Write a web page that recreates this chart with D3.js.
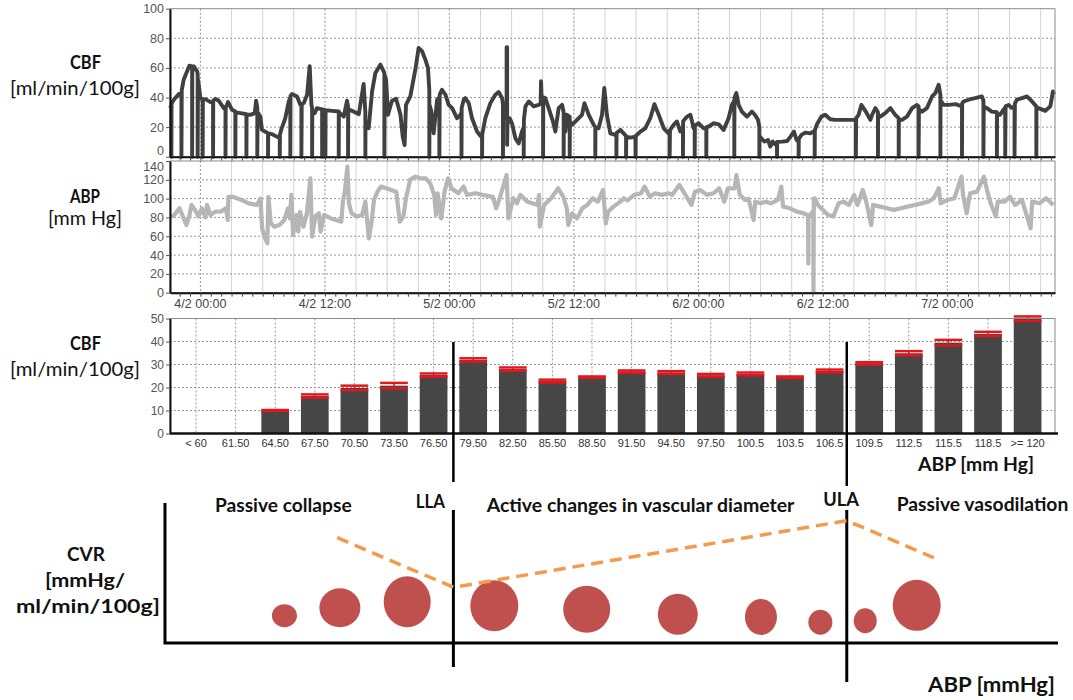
<!DOCTYPE html>
<html>
<head>
<meta charset="utf-8">
<script src="https://cdn.jsdelivr.net/npm/d3@7"></script>
<style>
  body { margin: 0; background: #fff; }
  .tick text { font-family: "Liberation Sans", Arial, sans-serif; }
  .lbl { font-family: Lato, "Open Sans", sans-serif; fill: #111; }
</style>
</head>
<body>
<svg id="chart" width="1073" height="700"></svg>
<script>
// ---- time series (hours after 4/2 00:00, value) ----
const timeStartHour = -2.94;
const timeEndHour = 82.38;

const cbfSeries = [
  [-2.99,32.8],[-2.80,34],[-2.80,0],[-2.78,36],[-2.57,38.5],[-2.09,42.3],[-1.83,43],[-1.83,0],[-1.80,45],
  [-1.61,52],[-1.29,57.7],[-1.06,61.5],[-0.80,61],[-0.80,0],[-0.78,60],[-0.64,61],[-0.32,57.7],[-0.26,56],
  [-0.26,0],[-0.24,52],[-0.16,48.6],[0,39.6],[0.22,38.5],[0.22,0],[0.24,38.5],[0.48,38.9],[0.96,36.9],
  [1.22,37],[1.22,0],[1.24,38],[1.45,39.1],[1.77,37.8],[2.25,32.8],[2.41,32],[2.41,0],[2.43,33],[2.67,36.9],
  [3.05,31.7],[3.37,30.5],[3.37,0],[3.39,30],[3.86,29.4],[4.43,28.7],[4.43,0],[4.45,28.5],[4.82,28.3],
  [5.24,29.4],[5.37,37.8],[5.49,33],[5.49,0],[5.51,30],[5.78,27],[5.94,18.1],[6.52,15.8],[6.52,0],[6.54,15.8],
  [6.91,15.2],[7.55,12.9],[7.65,13],[7.65,0],[7.67,15],[7.81,18.8],[8.19,26],[8.51,37.3],[8.67,40],[8.67,0],
  [8.69,41],[8.84,42.3],[9.32,40.7],[9.64,35],[9.74,35],[9.74,0],[9.76,35.5],[9.96,36.2],[10.28,41.9],
  [10.54,61.1],[10.70,35],[10.76,33],[10.76,0],[10.78,31],[11.02,29.4],[11.24,32.8],[11.73,32],[11.73,0],
  [11.75,32],[12.05,31.5],[12.05,0],[12.07,31.5],[12.69,31],[13.33,30.5],[13.33,0],[13.35,30],[13.82,27.1],
  [14.14,37.8],[14.23,34],[14.23,0],[14.25,32],[14.62,31],[15.26,28.7],[15.74,49.1],[15.90,30],[15.90,0],
  [15.92,24],[16.22,19.2],[16.55,44.1],[16.87,56.6],[17.35,62.2],[17.67,57.7],[17.74,56],[17.74,0],[17.76,55],
  [17.90,52],[18.09,28.3],[18.47,37.8],[18.86,39.1],[19.28,28.3],[19.50,13.6],[19.69,7.9],[19.82,35],
  [20.24,40.7],[20.72,58.8],[21.04,73.5],[21.37,71.3],[21.69,65.6],[21.94,60],[22.07,45],[22.07,0],[22.09,35],
  [22.27,30.5],[22.49,15.8],[22.81,38.5],[23.04,40],[23.04,0],[23.06,42],[23.29,45.2],[23.61,41.9],
  [23.94,35],[24.26,32.8],[24.74,26],[25.06,28.3],[25.16,30],[25.16,0],[25.18,33],[25.38,38.5],
  [25.54,39.6],[25.86,36.2],[26.19,26],[26.67,17],[27.05,13.6],[27.15,13],[27.15,0],[27.17,15],[27.47,26],
  [27.95,36.2],[28.43,41.9],[28.75,43.7],[29.08,39.6],[29.17,35],[29.17,0],[29.19,30],[29.40,26],[29.52,28],
  [29.52,74],[29.56,74],[29.56,8],[29.60,22],[29.81,26],[30.04,22.6],[30.36,12.4],[30.69,9],[31.0,17],
  [31.16,20],[31.16,0],[31.18,25],[31.33,34],[31.65,37.3],[32.13,34],[32.61,35],[32.80,36],[32.84,51],
  [32.90,38],[33.03,38],[33.03,0],[33.05,40],[33.25,39.6],[33.57,32.8],[33.99,23.8],[34.22,17],[34.54,32.8],
  [34.86,35],[35.02,30],[35.02,0],[35.04,24],[35.18,17],[35.34,28.3],[35.60,27],[35.60,0],[35.62,24],
  [35.82,21.5],[36.30,24.9],[36.79,28.3],[37.01,36.2],[37.43,28.3],[37.91,21.5],[38.07,20],[38.07,0],
  [38.09,19],[38.39,19.2],[38.71,28.3],[38.93,46.4],[39.19,28.3],[39.51,15.8],[39.99,14.7],[40.10,15],
  [40.10,0],[40.12,16],[40.48,18.1],[40.80,15.8],[41.03,14],[41.03,0],[41.05,13.5],[41.45,12.9],[41.93,13.6],
  [41.95,0],[41.97,14],[42.41,17],[42.89,19.2],[43.37,26],[43.76,35.5],[44.18,28.3],[44.66,19.2],[45.14,15.8],
  [45.24,16],[45.24,0],[45.26,18],[45.62,21.5],[45.94,23.8],[46.27,17],[46.52,20],[46.52,0],[46.54,24],
  [46.91,27.1],[47.23,28.3],[47.55,19.2],[47.65,20],[47.65,0],[47.67,21],[48.03,22.6],[48.51,19.2],
  [48.77,19.5],[48.77,0],[48.79,20],[49.0,20.4],[49.48,22.6],[49.96,21.9],[50.44,18.1],[50.92,26],[51.24,35],
  [51.47,38],[51.47,0],[51.49,40],[51.66,43],[51.88,35],[52.2,30.5],[52.69,27.1],[53.17,30.5],[53.49,28],
  [53.75,24.9],[53.88,20],[53.88,0],[53.90,14],[54.07,12.4],[54.39,10.2],[54.71,11.3],[54.94,6.8],
  [55.17,10.2],[55.42,8.4],[55.58,9],[55.58,0],[55.60,10],[56.08,10.2],[56.57,10.6],[56.89,13.6],[57.21,17],
  [57.46,11.3],[57.67,10.2],[57.67,0],[57.69,12],[57.93,14.7],[58.31,16.3],[58.80,15.8],[59.12,17],[59.21,17],
  [59.21,0],[59.23,18],[59.44,21.9],[59.86,27.1],[60.24,28.3],[60.72,25.3],[61.2,24.9],[63.13,24.9],
  [63.19,25],[63.19,0],[63.21,26],[63.45,28.3],[63.71,35],[64.1,31],[64.58,24.9],[64.73,28],[65.06,32.8],
  [65.32,30],[65.32,0],[65.34,28],[65.54,27.1],[66.02,29.4],[66.51,32.8],[66.99,28.3],[67.31,26],[67.31,0],
  [67.33,25],[67.63,24.9],[68.12,27.1],[68.6,32.8],[69.08,35],[69.24,34],[69.24,0],[69.26,32],[69.56,30.5],
  [70.04,32.8],[70.53,40.7],[70.85,43],[71.17,48.6],[71.33,42],[71.33,0],[71.35,38],[71.65,35],[72.13,35],
  [72.78,35.5],[73.41,34],[73.41,0],[73.43,36],[73.57,37.3],[74.05,38.5],[74.69,39.6],[75.33,40.7],
  [75.49,38],[75.49,0],[75.51,34],[75.81,32.8],[76.29,30.5],[76.78,30],[76.78,0],[76.80,29],[77.10,28.3],
  [77.43,32],[77.59,33],[77.59,0],[77.61,34],[77.91,35],[78.2,33],[78.49,34],[78.49,0],[78.51,36],
  [78.71,38.5],[79.2,39.6],[79.68,40.7],[80.16,37.3],[80.58,34],[80.58,0],[80.60,33],[80.80,32.8],
  [81.45,31],[81.93,34],[82.18,44.1],[82.3,42]
];

const abpSeries = [
  [-2.80,80.9],[-2.51,82.6],[-2.02,89.7],[-1.69,80.9],[-1.35,72],[-1.09,80.9],[-0.87,93.3],[-0.52,88],
  [-0.19,80.9],[0.13,89.7],[0.48,80],[0.64,93.3],[0.96,82.6],[1.47,86.2],[1.97,86.2],[2.46,89.7],[2.63,77.3],
  [2.70,102],[3.12,102],[3.95,98.6],[4.63,95],[5.45,93.3],[5.78,100],[5.95,68.4],[6.11,61.3],[6.45,52.5],
  [6.55,102],[6.78,73.8],[7.11,70.2],[7.61,72],[8.10,77.3],[8.43,89.7],[8.61,79],[8.77,104],[8.93,61.3],
  [9.25,82.6],[9.44,65],[9.60,86],[9.93,70.2],[10.27,84.4],[10.60,121.6],[10.76,59.6],[11.08,80.9],
  [11.42,84.4],[11.59,65],[11.92,82.6],[12.59,79],[13.08,77.3],[13.59,75.5],[13.74,96.8],[13.92,107.4],
  [14.17,134],[14.31,95],[14.57,84.4],[15.07,80.9],[15.58,82.6],[15.90,96.8],[16.24,57.8],[16.50,75.5],
  [16.73,98.6],[17.06,107.4],[17.40,112.8],[17.90,111],[18.39,109.2],[18.89,107.4],[19.22,75.5],[19.56,80.9],
  [19.82,100.4],[20.22,120],[20.72,123.4],[21.20,121.6],[21.72,121.6],[22.15,116.3],[22.54,104],[22.71,82.6],
  [22.87,105.7],[23.21,79],[23.54,107.4],[23.87,121.6],[24.20,111],[24.87,105.7],[25.37,112.8],[25.70,104],
  [26.53,105.7],[27.18,104],[28.18,102],[28.52,89.7],[28.85,100.4],[29.51,125],[29.68,79],[30.17,100.4],
  [30.51,95],[30.84,104],[31.51,96.8],[32.0,95],[32.48,93.3],[32.65,104],[32.72,70.2],[33.14,93.3],
  [33.81,100.4],[34.48,111],[34.98,102],[35.32,89.7],[35.47,72],[35.81,84.4],[36.31,79],[36.82,89.7],
  [37.30,93.3],[37.81,100.4],[38.31,96.8],[38.81,109.2],[39.08,73.8],[39.32,86.2],[39.81,91.5],[40.48,96.8],
  [40.82,100.4],[41.16,98],[41.82,104],[42.49,105.7],[42.82,112.8],[43.33,102],[43.83,105.7],[44.49,104],
  [45.16,105.7],[45.49,104],[46.16,114.5],[46.66,105.7],[47.33,93.3],[47.66,107.4],[48.16,109.2],[48.83,104],
  [49.49,105.7],[50.0,111],[50.5,96.8],[50.83,111],[51.5,111],[51.66,125],[52.0,104],[52.5,98.6],[52.83,100],
  [53.33,77.3],[53.49,96.8],[54.0,95],[54.51,96.8],[55.0,95],[55.67,98.6],[56.0,112.8],[56.17,91.5],
  [56.84,89.7],[57.50,86.2],[58.17,84.4],[58.51,82.6],[58.58,82],[58.60,31],[58.62,82],[58.78,82.6],
  [59.01,86.2],[59.08,86],[59.10,1],[59.14,100.4],[59.24,100.4],[59.51,93.3],[60.01,88],[60.51,82.6],
  [61.01,80.9],[61.51,95],[62.01,96.8],[62.52,93.3],[63.02,104],[63.34,93.3],[63.85,109.2],[64.18,96.8],
  [64.67,72],[64.85,93.3],[65.51,91.5],[66.18,89.7],[66.85,88],[67.52,89.7],[68.18,91.5],[68.85,93.3],
  [69.52,95],[70.19,96.8],[70.69,100.4],[71.19,111],[71.35,95],[72.02,98.6],[72.69,100.4],[73.36,123.4],
  [73.52,104],[73.86,84.4],[74.20,105.7],[74.86,107.4],[75.53,123.4],[75.86,107.4],[76.19,95],[76.69,80.9],
  [76.87,96.8],[77.53,96.8],[78.03,102],[78.53,93.3],[79.20,98.6],[80.03,68.4],[80.19,96.8],[80.87,95],
  [81.53,100.4],[82.21,93.3]
];

const cbfTicks = [0, 20, 40, 60, 80, 100];
const abpTicks = [0, 20, 40, 60, 80, 100, 120, 140];

// ---- CBF by ABP bin ----
const abpCategories = ['< 60', '61.50', '64.50', '67.50', '70.50', '73.50', '76.50', '79.50', '82.50',
  '85.50', '88.50', '91.50', '94.50', '97.50', '100.5', '103.5', '106.5', '109.5', '112.5', '115.5',
  '118.5', '>= 120'];
const cbfMean = [null, null, 10, 16.3, 19.8, 20.8, 25.4, 32, 28, 22.8, 24.5, 26.9, 26.5, 25.3, 25.9,
  24.5, 27.2, 30.5, 34.9, 39.5, 43.3, 49.9];
const cbfErr = [null, null, 0.2, 0.7, 1.0, 1.2, 0.7, 0.7, 0.7, 0.6, 0.3, 0.5, 0.6, 0.6, 0.6, 0.3, 0.6,
  0.5, 0.9, 1.2, 0.9, 1.0];
const barTicks = [0, 10, 20, 30, 40, 50];

// ---- autoregulation schematic ----
const llaAbp = 78;
const ulaAbp = 107.8;
const schematicAbpExtent = [56.15, 123.8];
const vesselAbp = [65.2, 69.4, 74.5, 81.1, 88.1, 95.0, 101.3, 105.8, 109.2, 113.1];
const vesselCvr = [19.5, 25.2, 29.5, 26.6, 24.1, 20.5, 18.6, 14.8, 15.9, 26.9];
const vesselWidth = [25, 41, 47, 48, 47, 40, 32, 24, 23, 48];
const vesselHeight = [23, 39, 51, 51, 47, 41, 36, 25, 25, 51];
const cvrTrendAbp = [69.2, 78.0, 107.8, 114.8];
const cvrTrendCvr = [75.2, 39.8, 87.4, 59.3];
const regionLabels = ['Passive collapse', 'Active changes in vascular diameter', 'Passive vasodilation'];

// ---------------------------------------------------------------
const svg = d3.select('#chart');
const X0 = 170, X1 = 1055;
const t0 = new Date(2015, 1, 4, 0, 0);
const toTime = h => d3.timeMinute.offset(t0, Math.round(h * 60));
const fmt = d3.timeFormat('%-d/%-m %H:%M');

const x = d3.scaleTime()
  .domain([toTime(timeStartHour), toTime(timeEndHour)])
  .range([X0, X1]);

function timePanel(series, yTicks, top, bottom, color, width, labels) {
  const y = d3.scaleLinear().domain([0, d3.max(yTicks)]).range([bottom, top]);
  const g = svg.append('g');

  g.selectAll('.g3').data(x.ticks(d3.timeHour.every(3))).join('line')
    .attr('x1', d => x(d)).attr('x2', d => x(d)).attr('y1', top).attr('y2', bottom)
    .attr('stroke', '#d4d4d4').attr('stroke-width', 1);
  g.selectAll('.g12').data(x.ticks(d3.timeHour.every(12))).join('line')
    .attr('x1', d => x(d)).attr('x2', d => x(d)).attr('y1', top).attr('y2', bottom)
    .attr('stroke', '#fff').attr('stroke-width', 1.5);
  g.selectAll('.g12d').data(x.ticks(d3.timeHour.every(12))).join('line')
    .attr('x1', d => x(d)).attr('x2', d => x(d)).attr('y1', top).attr('y2', bottom)
    .attr('stroke', '#999').attr('stroke-dasharray', '2,2');
  g.selectAll('.gy').data(yTicks.slice(1, -1)).join('line')
    .attr('x1', X0).attr('x2', X1).attr('y1', d => y(d)).attr('y2', d => y(d))
    .attr('stroke', '#999').attr('stroke-dasharray', '2,2');

  const line = d3.line().x(d => x(toTime(d[0]))).y(d => y(d[1]));
  g.append('path').datum(series)
    .attr('d', line).attr('fill', 'none')
    .attr('stroke', color).attr('stroke-width', width).attr('stroke-linejoin', 'round');

  g.append('rect').attr('x', X0).attr('y', top).attr('width', X1 - X0).attr('height', bottom - top)
    .attr('fill', 'none').attr('stroke', '#8a8a8a');

  const ya = g.append('g').attr('transform', `translate(${X0},0)`)
    .call(d3.axisLeft(y).tickValues(yTicks).tickSize(4).tickPadding(2).tickSizeOuter(0));
  ya.select('.domain').attr('stroke', '#111').attr('stroke-width', 2);
  ya.selectAll('.tick line').attr('stroke', '#555');
  ya.selectAll('.tick text').attr('font-size', 12.5).attr('fill', '#555');

  const xa = g.append('g').attr('transform', `translate(0,${bottom})`)
    .call(d3.axisBottom(x).ticks(d3.timeHour.every(1)).tickSize(4).tickSizeOuter(0).tickFormat(''));
  xa.select('.domain').attr('stroke', '#111').attr('stroke-width', 2);
  xa.selectAll('.tick line').attr('stroke', '#444');

  if (labels) {
    g.selectAll('.tl').data(x.ticks(d3.timeHour.every(12))).join('text')
      .attr('x', d => x(d)).attr('y', bottom + 15).attr('text-anchor', 'middle')
      .attr('font-family', '"Liberation Sans", Arial, sans-serif')
      .attr('font-size', 12.5).attr('fill', '#444').text(fmt);
  }
  return ya;
}

const cbfAxis = timePanel(cbfSeries, cbfTicks, 8.7, 156.7, '#404040', 3.9, false);
const abpAxis = timePanel(abpSeries, abpTicks, 161, 292.7, '#b6b6b6', 4.2, true);
// the two panels meet: pull their end labels apart
cbfAxis.selectAll('.tick text').filter(d => d === 0).attr('dy', '-0.18em');
abpAxis.selectAll('.tick text').filter(d => d === 140).attr('dy', '0.78em');

// ---- bar chart ----
const barTop = 318.5, barBottom = 433.5;
const xBand = d3.scaleBand().domain(abpCategories).range([176.2, 1047.4])
  .paddingInner(0.3).paddingOuter(0.15);
const yBar = d3.scaleLinear().domain([0, 50]).range([barBottom, barTop]);
const bars = abpCategories.map((c, i) => ({ c, m: cbfMean[i], e: cbfErr[i] }));
const gb = svg.append('g');

gb.selectAll('.vg').data(abpCategories).join('line')
  .attr('x1', d => xBand(d) + xBand.bandwidth() / 2).attr('x2', d => xBand(d) + xBand.bandwidth() / 2)
  .attr('y1', barTop).attr('y2', barBottom)
  .attr('stroke', '#999').attr('stroke-dasharray', '2,2');
gb.selectAll('.hg').data(barTicks.slice(1, -1)).join('line')
  .attr('x1', X0).attr('x2', X1).attr('y1', d => yBar(d)).attr('y2', d => yBar(d))
  .attr('stroke', '#999').attr('stroke-dasharray', '2,2');

const shown = bars.filter(d => d.m != null);
gb.selectAll('.bar').data(shown).join('rect')
  .attr('x', d => xBand(d.c)).attr('width', xBand.bandwidth())
  .attr('y', d => yBar(d.m)).attr('height', d => yBar(0) - yBar(d.m))
  .attr('fill', '#464646');
gb.selectAll('.eh').data(shown.flatMap(d => [
    { c: d.c, v: d.m + d.e }, { c: d.c, v: d.m - d.e }])).join('line')
  .attr('x1', d => xBand(d.c)).attr('x2', d => xBand(d.c) + xBand.bandwidth())
  .attr('y1', d => yBar(d.v)).attr('y2', d => yBar(d.v))
  .attr('stroke', '#e3161c').attr('stroke-width', 2.5);
gb.selectAll('.ev').data(shown).join('line')
  .attr('x1', d => xBand(d.c) + xBand.bandwidth() / 2).attr('x2', d => xBand(d.c) + xBand.bandwidth() / 2)
  .attr('y1', d => yBar(d.m + d.e)).attr('y2', d => yBar(d.m - d.e))
  .attr('stroke', '#e3161c').attr('stroke-width', 1.5);

gb.append('rect').attr('x', X0).attr('y', barTop).attr('width', X1 - X0).attr('height', barBottom - barTop)
  .attr('fill', 'none').attr('stroke', '#8a8a8a');
const bya = gb.append('g').attr('transform', `translate(${X0},0)`)
  .call(d3.axisLeft(yBar).tickValues(barTicks).tickSize(4).tickPadding(2).tickSizeOuter(0));
bya.select('.domain').attr('stroke', '#111').attr('stroke-width', 2);
bya.selectAll('.tick line').attr('stroke', '#555');
bya.selectAll('.tick text').attr('font-size', 12).attr('fill', '#555');
const bxa = gb.append('g').attr('transform', `translate(0,${barBottom})`)
  .call(d3.axisBottom(xBand).tickSize(0).tickPadding(6));
bxa.select('.domain').attr('d', `M${X0},0H${X1 + 3}`).attr('stroke', '#111').attr('stroke-width', 2.5);
bxa.selectAll('.tick text').attr('font-size', 11).attr('fill', '#333');

// ---- schematic ----
const abpX = d3.scaleLinear().domain([61.5, 118.5])
  .range([xBand('61.50') + xBand.bandwidth() / 2, xBand('118.5') + xBand.bandwidth() / 2]);
const cvrY = d3.scaleLinear().domain([0, 100]).range([643, 503]);
const sizeScale = d3.scaleLinear().domain([0, 50]).range([0, 50]);
const gs = svg.append('g');

gs.append('path')
  .attr('d', `M${abpX(schematicAbpExtent[0])},${cvrY(100)}V${cvrY(0)}H${abpX(schematicAbpExtent[1])}`)
  .attr('fill', 'none').attr('stroke', '#000').attr('stroke-width', 3);

// LLA / ULA limits, across bar chart and schematic
[[llaAbp, 342, 482, 510, 667], [ulaAbp, 342, 486, 510, 682]].forEach(([a, y1, y2, y3, y4]) => {
  gs.append('line').attr('x1', abpX(a)).attr('x2', abpX(a)).attr('y1', y1).attr('y2', y2)
    .attr('stroke', '#000').attr('stroke-width', 2.5);
  gs.append('line').attr('x1', abpX(a)).attr('x2', abpX(a)).attr('y1', y3).attr('y2', y4)
    .attr('stroke', '#000').attr('stroke-width', 3);
});

gs.selectAll('ellipse').data(vesselAbp.map((a, i) => ({
    a, c: vesselCvr[i], w: vesselWidth[i], h: vesselHeight[i] }))).join('ellipse')
  .attr('cx', d => abpX(d.a)).attr('cy', d => cvrY(d.c))
  .attr('rx', d => sizeScale(d.w) / 2).attr('ry', d => sizeScale(d.h) / 2)
  .attr('fill', '#c0504d');

gs.append('path').datum(cvrTrendAbp.map((a, i) => [a, cvrTrendCvr[i]]))
  .attr('d', d3.line().x(d => abpX(d[0])).y(d => cvrY(d[1])))
  .attr('fill', 'none').attr('stroke', '#f59a4b').attr('stroke-width', 3.5)
  .attr('stroke-dasharray', '12,7');

// ---- text labels (width fitted to the reference lettering) ----
function label(txt, xx, yy, size, weight, width) {
  const t = svg.append('text').attr('class', 'lbl').attr('x', xx).attr('y', yy)
    .attr('font-size', size).attr('font-weight', weight || 'normal')
    .attr('text-anchor', 'middle').text(txt);
  if (width) t.attr('textLength', width).attr('lengthAdjust', 'spacingAndGlyphs');
}
label('CBF', 85.5, 69, 18, 'bold', 31);
label('[ml/min/100g]', 75, 95, 20, 'normal', 130);
label('ABP', 85, 203, 18, 'bold', 30);
label('[mm Hg]', 85, 225, 20, 'normal', 74);
label('CBF', 85.5, 350, 18, 'bold', 31);
label('[ml/min/100g]', 75, 376, 20, 'normal', 130);
label('ABP [mm Hg]', 976, 471, 19, 'bold', 116);

label('CVR', 86, 561, 19, 'bold', 38);
label('[mmHg/', 85, 587, 19, 'bold', 80);
label('ml/min/100g]', 88, 613, 19, 'bold', 144);

label(regionLabels[0], 283.3, 511.5, 18, 'bold', 136.7);
label('LLA', 430.3, 508, 18, 'bold', 29.3);
label(regionLabels[1], 640.5, 511.5, 18, 'bold', 307.6);
label('ULA', 841, 505.5, 18, 'bold', 35.7);
label(regionLabels[2], 982.5, 511, 18, 'bold', 171.6);
label('ABP [mmHg]', 991.5, 691.5, 20, 'bold', 127);
</script>
</body>
</html>
